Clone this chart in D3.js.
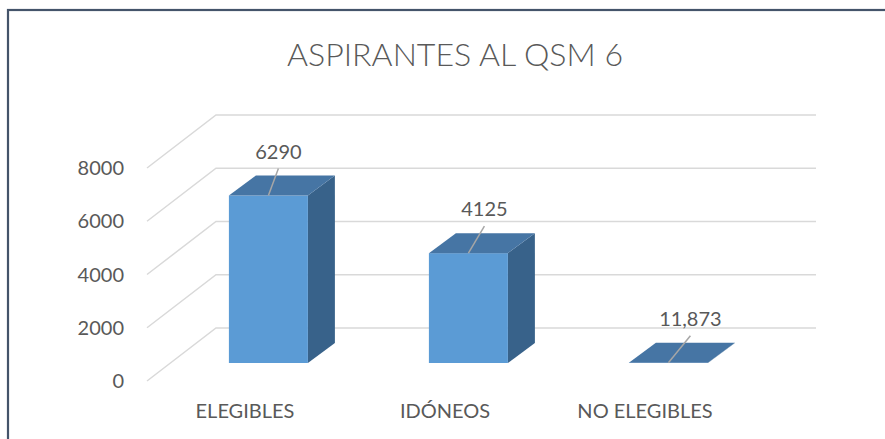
<!DOCTYPE html>
<html>
<head>
<meta charset="utf-8">
<script src="https://cdn.jsdelivr.net/npm/d3@7"></script>
<style>
  html, body { margin: 0; padding: 0; background: #ffffff; }
  svg { display: block; }
  text { font-family: Lato, "Noto Sans", sans-serif; fill: #595959; }
</style>
</head>
<body>
<script>
// ---- data ----
const title = "ASPIRANTES AL QSM 6";
const categories = ["ELEGIBLES", "IDÓNEOS", "NO ELEGIBLES"];
const values = [6290, 4125, 11.873];
const yTicks = [0, 2000, 4000, 6000, 8000];

// ---- layout ----
const W = 885, H = 439;
const svg = d3.select("body").append("svg").attr("width", W).attr("height", H);

// chart box with border (extends beyond the window on right/bottom)
svg.append("rect").attr("x", 8).attr("y", 10).attr("width", W + 20).attr("height", H + 20)
  .attr("fill", "#ffffff").attr("stroke", "#44546A").attr("stroke-width", 2.2);

// 3D projection constants
const floorDepth = { dx: 69, dy: -53 };
const barOffset = { dx: 23.4, dy: -18 };
const barDepth = { dx: 27, dy: -20 };

const y = d3.scaleLinear().domain([0, 8000]).range([381, 168]);
const x = d3.scaleBand().domain(categories).range([145, 745])
  .paddingInner(0.605).paddingOuter(0.3025);

// title
svg.append("text").attr("x", 455).attr("y", 66).attr("text-anchor", "middle")
  .attr("font-size", 32).attr("font-weight", 300)
  .attr("textLength", 336).attr("lengthAdjust", "spacingAndGlyphs")
  .text(title);

// gridlines: side wall diagonals + back wall horizontals
const x0 = 147;
const xBackRight = 816;
const grid = svg.append("g").attr("fill", "none").attr("stroke", "#D9D9D9").attr("stroke-width", 1.5);
yTicks.forEach(t => {
  const yf = y(t);
  grid.append("path").attr("d",
    `M${x0},${yf}L${x0 + floorDepth.dx},${yf + floorDepth.dy}L${xBackRight},${yf + floorDepth.dy}`);
});

// y axis labels
svg.append("g").selectAll("text").data(yTicks).join("text")
  .attr("x", 124).attr("y", d => y(d)).attr("dy", "0.36em")
  .attr("text-anchor", "end").attr("font-size", 20)
  .text(d => d);

// bars
const bars = svg.append("g");
values.forEach((v, i) => {
  const bx = x(categories[i]) + barOffset.dx;
  const bw = x.bandwidth();
  const yb = y(0) + barOffset.dy;
  const yt = y(v) + barOffset.dy;
  // side face
  bars.append("path").attr("fill", "#38628A")
    .attr("d", `M${bx + bw},${yt}L${bx + bw + barDepth.dx},${yt + barDepth.dy}L${bx + bw + barDepth.dx},${yb + barDepth.dy}L${bx + bw},${yb}Z`);
  // front face
  bars.append("rect").attr("x", bx).attr("y", yt).attr("width", bw).attr("height", Math.max(0, yb - yt))
    .attr("fill", "#5B9BD5");
  // top face
  bars.append("path").attr("fill", "#4675A4")
    .attr("d", `M${bx},${yt}L${bx + bw},${yt}L${bx + bw + barDepth.dx},${yt + barDepth.dy}L${bx + barDepth.dx},${yt + barDepth.dy}Z`);
});

// data labels with leader lines
const fmt = d3.formatLocale({ decimal: ",", thousands: ".", grouping: [3], currency: ["", ""] }).format(".3~f");
const labels = svg.append("g");
values.forEach((v, i) => {
  const cx = x(categories[i]) + barOffset.dx + x.bandwidth() / 2;
  const yt = y(v) + barOffset.dy;
  const lx = cx + 10 + 6 * i;
  const ly = yt - 37;
  labels.append("line").attr("x1", cx).attr("y1", yt).attr("x2", lx).attr("y2", ly + 10)
    .attr("stroke", "#A6A6A6").attr("stroke-width", 1.5);
  labels.append("text").attr("x", lx).attr("y", ly).attr("text-anchor", "middle")
    .attr("font-size", 20).text(fmt(v));
});

// category labels
svg.append("g").selectAll("text").data(categories).join("text")
  .attr("x", d => x(d) + x.bandwidth() / 2).attr("y", 418)
  .attr("text-anchor", "middle").attr("font-size", 20)
  .text(d => d);
</script>
</body>
</html>
